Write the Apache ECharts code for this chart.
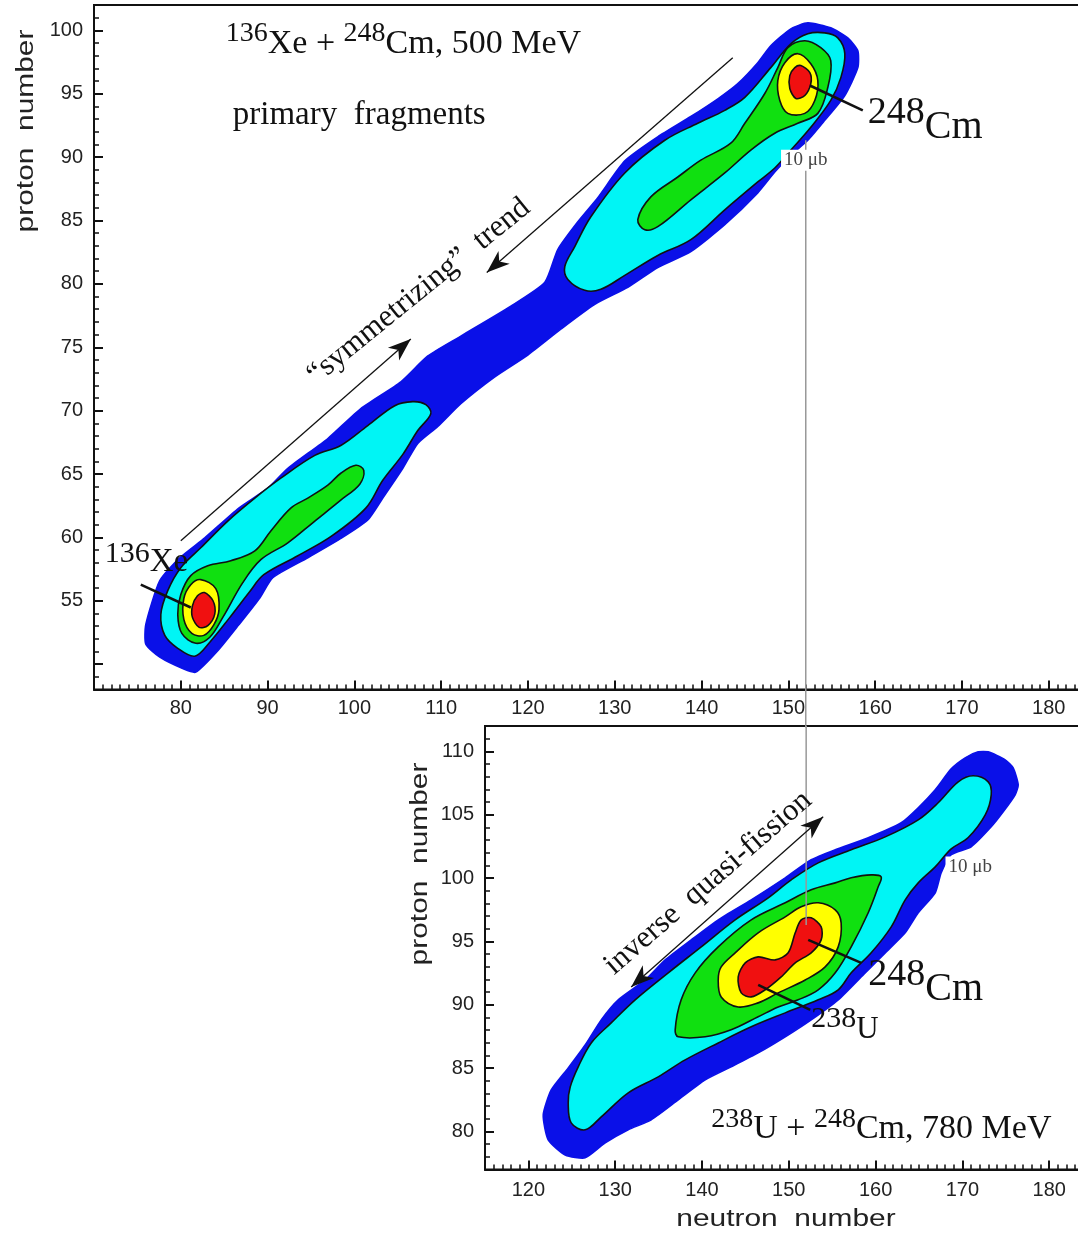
<!DOCTYPE html>
<html>
<head>
<meta charset="utf-8">
<script src="https://cdn.jsdelivr.net/npm/echarts@6/dist/echarts.min.js"></script>
<style>
html, body { margin: 0; padding: 0; background: #fff; }
#chart { width: 1078px; height: 1233px; }
</style>
</head>
<body>
<div id="chart"></div>
<script>
// contour outlines, points are [neutron number, proton number]
// upper panel: 136Xe + 248Cm
const xeBlue = [[81.73,49.37],[84.26,51.06],[86.68,53.10],[89.10,55.22],[90.60,56.82],[94.63,58.39],[98.55,59.96],[101.54,61.37],[103.27,63.10],[105.58,65.45],[107.30,67.41],[109.61,68.75],[112.26,70.55],[116.18,72.67],[119.98,74.39],[123.78,76.43],[127.70,78.39],[131.50,79.73],[134.95,81.29],[138.76,82.55],[142.67,84.67],[146.47,87.18],[148.43,88.82],[150.28,90.16],[152.24,91.33],[154.19,92.90],[156.50,94.86],[158.00,97.06],[158.00,98.39],[156.84,99.41],[154.88,100.20],[152.24,100.59],[150.28,100.12],[147.97,98.78],[146.47,97.45],[144.17,95.80],[141.87,94.60],[138.76,93.20],[134.95,91.60],[131.15,89.70],[128.04,86.80],[125.74,84.90],[123.43,82.71],[121.94,80.12],[118.02,78.24],[112.26,75.88],[108.46,74.31],[105.35,72.27],[100.74,70.16],[96.94,67.80],[92.33,65.45],[90.02,63.88],[86.68,62.31],[82.76,59.96],[79.88,58.39],[77.58,56.59],[75.97,53.14],[75.97,51.57],[77.58,50.55],[80.35,49.61]];
const xeCyanLow = [[77.70,53.92],[78.16,52.27],[79.65,51.25],[81.61,50.63],[83.34,51.73],[85.65,53.69],[87.95,55.73],[89.56,57.06],[93.48,58.55],[97.40,60.12],[101.31,62.31],[103.27,64.51],[105.58,66.55],[107.30,68.43],[108.80,69.76],[108.23,70.47],[106.73,70.71],[104.65,70.39],[101.54,68.82],[98.43,67.25],[95.44,66.47],[91.52,64.67],[88.53,63.10],[85.41,61.29],[82.30,59.18],[80.00,57.61],[78.50,55.80]];
const xeCyanHigh = [[124.59,80.35],[126.54,79.49],[128.39,79.57],[131.15,80.67],[134.95,82.24],[138.76,83.49],[142.67,85.84],[146.47,88.04],[148.43,89.14],[150.28,90.55],[152.58,92.35],[154.88,94.47],[156.04,96.27],[156.50,98.16],[155.69,99.41],[154.19,99.80],[152.24,99.73],[150.28,98.94],[147.97,97.06],[144.98,94.71],[142.67,93.69],[139.56,92.67],[135.76,91.33],[131.15,88.75],[127.24,85.29],[125.39,82.94],[124.24,81.37]];
const xeGreenLow = [[79.65,53.92],[80.12,52.43],[81.73,51.65],[83.34,52.12],[84.84,53.69],[87.14,56.43],[89.22,58.24],[92.33,59.57],[95.44,61.29],[98.43,62.94],[100.62,64.20],[101.08,65.29],[100.16,65.69],[98.43,65.06],[96.94,64.12],[94.63,63.10],[92.67,62.31],[90.37,60.51],[88.53,58.94],[85.76,58.16],[83.11,57.76],[81.15,56.98],[80.00,55.49]];
const xeGreenHigh = [[132.65,85.06],[133.46,84.27],[134.95,84.51],[138.76,86.63],[142.67,88.75],[145.67,90.55],[148.43,91.88],[151.08,92.67],[153.39,93.45],[154.54,95.49],[154.88,97.61],[153.73,98.63],[151.89,99.18],[149.93,98.63],[148.78,97.06],[147.28,95.02],[144.98,92.67],[143.36,91.10],[139.91,89.76],[137.26,88.43],[134.15,86.86]];
const xeYellowLow = [[82.30,56.67],[84.03,55.96],[84.40,54.30],[83.80,53.10],[82.65,52.27],[81.27,52.43],[80.35,53.53],[80.35,55.18],[81.15,56.27]];
const xeYellowHigh = [[151.08,98.16],[152.58,97.37],[153.39,96.04],[153.04,94.47],[151.89,93.45],[149.93,93.45],[149.01,94.47],[148.78,96.04],[149.59,97.45]];
const xeRedLow = [[82.72,55.65],[83.71,55.00],[83.91,53.95],[83.11,53.04],[82.12,52.90],[81.34,53.69],[81.34,54.60],[81.92,55.39]];
const xeRedHigh = [[151.43,97.22],[152.47,96.67],[152.58,95.80],[151.89,94.86],[150.86,94.63],[150.16,95.41],[150.16,96.43],[150.74,97.06]];

// lower panel: 238U + 248Cm
const uBlue = [[121.71,81.31],[122.28,79.34],[124.24,78.15],[126.54,77.92],[128.85,79.10],[131.50,80.13],[134.15,80.92],[137.26,82.49],[140.37,84.07],[143.36,85.10],[146.47,86.20],[149.59,87.47],[152.58,88.81],[155.69,90.39],[158.80,92.52],[161.11,94.10],[163.41,95.68],[164.91,97.26],[166.87,98.84],[167.56,100.42],[168.71,101.84],[171.01,102.47],[173.32,104.05],[174.70,105.23],[176.08,106.57],[176.43,107.36],[175.85,108.70],[174.93,109.33],[172.97,109.96],[171.82,109.96],[170.32,109.49],[168.71,108.62],[166.87,106.97],[164.91,105.55],[162.95,104.36],[159.15,103.18],[155.35,102.23],[152.58,101.44],[149.59,100.02],[145.67,98.28],[141.87,96.70],[138.76,95.12],[135.76,93.54],[133.46,91.96],[130.35,90.39],[128.39,88.81],[126.54,86.83],[124.59,85.02],[122.63,83.28]];
const uCyan = [[124.59,82.26],[124.93,80.68],[126.54,80.13],[128.39,81.15],[131.50,83.05],[134.95,84.31],[138.06,85.65],[141.87,86.99],[145.67,88.26],[149.59,89.36],[153.39,90.39],[155.69,91.18],[157.19,92.52],[159.49,94.10],[161.80,96.15],[163.41,98.28],[164.91,99.62],[166.87,100.88],[168.71,102.30],[170.67,103.20],[172.63,104.99],[173.32,106.57],[172.97,107.59],[171.24,108.07],[169.52,107.59],[167.21,105.94],[164.91,104.59],[161.11,103.25],[157.19,102.23],[153.39,101.20],[150.28,99.86],[147.63,98.44],[143.82,96.70],[139.91,94.57],[136.11,92.52],[132.30,90.39],[129.54,88.57],[127.24,86.99],[125.74,85.10],[124.82,83.52]];
const uGreen = [[136.91,88.02],[137.26,87.47],[140.37,87.47],[143.36,88.02],[146.47,89.05],[148.78,89.83],[151.08,90.39],[153.39,91.18],[155.35,92.52],[157.19,94.57],[159.15,97.26],[160.30,99.31],[160.64,100.10],[159.49,100.25],[157.19,100.02],[155.35,99.62],[152.58,99.07],[149.59,98.05],[145.67,96.70],[141.87,94.57],[139.22,92.52],[137.60,90.39]];
const uYellow = [[141.87,91.96],[142.21,90.62],[144.17,89.83],[146.47,90.15],[148.78,90.94],[151.89,91.96],[154.19,92.99],[155.69,94.57],[156.03,96.46],[155.35,97.49],[153.39,98.05],[151.43,97.73],[149.59,96.94],[146.47,95.68],[143.82,94.10],[142.21,92.99]];
const uRed = [[144.17,92.20],[144.52,90.94],[145.67,90.62],[147.28,91.18],[149.12,92.20],[150.74,93.31],[152.58,94.10],[153.73,95.12],[153.73,96.15],[152.58,96.86],[151.43,96.70],[150.74,95.68],[149.93,94.10],[148.43,93.54],[146.47,93.78],[144.98,93.31]];

// arrows and pointer lines
const xeArrowDown = [[143.59,97.84],[115.25,80.90]];
const xeArrowUp = [[80.0,59.73],[106.50,75.65]];
const xeCmPointer = [[152.47,95.65],[158.57,93.69]];
const xeXePointer = [[75.39,56.27],[81.15,54.47]];
const uArrow = [[131.84,91.41],[153.96,104.83]];
const uCmPointer = [[152.24,95.12],[158.34,93.31]];
const uUPointer = [[146.47,91.57],[152.47,89.60]];
const cmLineTop = [[152,91.33],[152,45.0]];
const cmLineBottom = [[152,112],[152,96.3]];

// tick labels
const topXTicks = [80, 90, 100, 110, 120, 130, 140, 150, 160, 170, 180];
const topYTicks = [50, 55, 60, 65, 70, 75, 80, 85, 90, 95, 100];
const topYLabels = [55, 60, 65, 70, 75, 80, 85, 90, 95, 100];
const botXTicks = [120, 130, 140, 150, 160, 170, 180];
const botYTicks = [80, 85, 90, 95, 100, 105, 110];

const SERIF = '"Liberation Serif", "Times New Roman", serif';
const SANS = '"Liberation Sans", Arial, sans-serif';
const INK = '#111';
const BLUE = '#0a10e8', CYAN = '#00f5f5', GREEN = '#10e010', YELLOW = '#ffff00', RED = '#f01010';

function axes(dim, grid, min, max, ticks, labels, margin) {
  const pos = dim === 'x' ? 'bottom' : 'left';
  const minor = {
    type: 'value', gridIndex: grid, position: pos, min: min, max: max, interval: 1,
    axisLine: { show: true, lineStyle: { color: INK, width: 2 } },
    axisTick: { show: true, inside: true, length: 5, lineStyle: { color: INK, width: 1.5 } },
    axisLabel: { show: false }, splitLine: { show: false }, silent: true
  };
  const major = {
    type: 'value', gridIndex: grid, position: pos, min: min, max: max,
    axisLine: { show: false },
    axisTick: { show: true, inside: true, length: 9, customValues: ticks, lineStyle: { color: INK, width: 2 } },
    axisLabel: { show: true, customValues: labels, fontSize: 20, fontFamily: SANS, color: '#222', margin: margin },
    splitLine: { show: false }, silent: true
  };
  return [minor, major];
}

function onGrid(g) {
  return { type: 'custom', xAxisIndex: g * 2 + 1, yAxisIndex: g * 2 + 1, silent: true, animation: false, encode: { x: 0, y: 1 } };
}

function contour(g, pts, fill, stroke, smooth) {
  return Object.assign(onGrid(g), {
    data: pts,
    renderItem: function (params, api) {
      if (params.context.done) return;
      params.context.done = true;
      return {
        type: 'polygon',
        shape: { points: pts.map(function (p) { return api.coord(p); }), smooth: smooth },
        style: { fill: fill, stroke: stroke, lineWidth: 1.6 }
      };
    }
  });
}

function arrowHead(tip, from) {
  const dx = tip[0] - from[0], dy = tip[1] - from[1];
  const len = Math.sqrt(dx * dx + dy * dy);
  const ux = dx / len, uy = dy / len, nx = -uy, ny = ux;
  const L = 23, W = 8.5;
  return {
    type: 'polygon',
    shape: { points: [tip, [tip[0] - ux * L + nx * W, tip[1] - uy * L + ny * W], [tip[0] - ux * L * 0.72, tip[1] - uy * L * 0.72], [tip[0] - ux * L - nx * W, tip[1] - uy * L - ny * W]] },
    style: { fill: INK }
  };
}

function line(g, pts, color, width, heads) {
  return Object.assign(onGrid(g), {
    data: pts,
    renderItem: function (params, api) {
      if (params.context.done) return;
      params.context.done = true;
      const p = pts.map(function (d) { return api.coord(d); });
      const kids = [{ type: 'polyline', shape: { points: p }, style: { stroke: color, lineWidth: width, fill: null } }];
      if (heads.indexOf('end') >= 0) kids.push(arrowHead(p[p.length - 1], p[p.length - 2]));
      if (heads.indexOf('start') >= 0) kids.push(arrowHead(p[0], p[1]));
      return { type: 'group', children: kids };
    }
  });
}

function note(g, pos, style, rotateDeg) {
  return Object.assign(onGrid(g), {
    data: [pos], z: 5,
    renderItem: function (params, api) {
      const c = api.coord(pos);
      return {
        type: 'text', x: c[0], y: c[1], rotation: (rotateDeg || 0) * Math.PI / 180,
        style: Object.assign({ fill: INK, align: 'left', verticalAlign: 'middle' }, style)
      };
    }
  });
}

function supText(text, main, sup, raise) {
  return {
    text: text,
    rich: {
      s: { fontSize: sup, fontFamily: SERIF, fill: INK, padding: [0, 0, raise * 2, 0] },
      n: { fontSize: main, fontFamily: SERIF, fill: INK }
    }
  };
}

const plain = function (size) { return { font: size + 'px ' + SERIF }; };
const micro = { text: '10 \u03bcb', font: '19px ' + SERIF, fill: '#444', align: 'center', backgroundColor: '#fff', padding: [1, 3] };

const xAxes = [].concat(
  axes('x', 0, 70, 190, topXTicks, topXTicks, 9),
  axes('x', 1, 115, 190, botXTicks, botXTicks, 11)
);
const yAxes = [].concat(
  axes('y', 0, 48, 102, topYTicks, topYLabels, 11),
  axes('y', 1, 77, 112, botYTicks, botYTicks, 11)
);

const option = {
  animation: false,
  backgroundColor: '#fff',
  grid: [
    { left: 94, top: 5, width: 1041.6, height: 684.5, show: true, borderColor: INK, borderWidth: 2, outerBoundsMode: 'none', containLabel: false },
    { left: 485, top: 726, width: 651, height: 443.5, show: true, borderColor: INK, borderWidth: 2, outerBoundsMode: 'none', containLabel: false }
  ],
  xAxis: xAxes,
  yAxis: yAxes,
  graphic: [
    { type: 'text', x: 27, y: 131, rotation: Math.PI / 2, scaleX: 1.3, style: { text: 'proton  number', font: '23px ' + SANS, fill: '#222', align: 'center', verticalAlign: 'middle' } },
    { type: 'text', x: 421, y: 864, rotation: Math.PI / 2, scaleX: 1.3, style: { text: 'proton  number', font: '23px ' + SANS, fill: '#222', align: 'center', verticalAlign: 'middle' } },
    { type: 'text', x: 786, y: 1220, scaleX: 1.3, style: { text: 'neutron  number', font: '23px ' + SANS, fill: '#222', align: 'center', verticalAlign: 'middle' } }
  ],
  series: [
    contour(0, xeBlue, BLUE, BLUE, 0.2),
    contour(0, xeCyanLow, CYAN, INK, 0.35),
    contour(0, xeCyanHigh, CYAN, INK, 0.35),
    contour(0, xeGreenLow, GREEN, INK, 0.35),
    contour(0, xeGreenHigh, GREEN, INK, 0.35),
    contour(0, xeYellowLow, YELLOW, INK, 0.35),
    contour(0, xeYellowHigh, YELLOW, INK, 0.35),
    contour(0, xeRedLow, RED, INK, 0.3),
    contour(0, xeRedHigh, RED, INK, 0.3),
    contour(1, uBlue, BLUE, BLUE, 0.2),
    contour(1, uCyan, CYAN, INK, 0.35),
    contour(1, uGreen, GREEN, INK, 0.35),
    contour(1, uYellow, YELLOW, INK, 0.35),
    contour(1, uRed, RED, INK, 0.3),

    note(0, [152.0, 89.76], micro),
    note(1, [170.9, 100.88], micro),
    line(0, cmLineTop, '#999', 1.5, []),
    line(1, cmLineBottom, '#999', 1.5, []),

    line(0, xeArrowDown, INK, 1.3, ['end']),
    line(0, xeArrowUp, INK, 1.3, ['end']),
    line(0, xeCmPointer, INK, 2.6, []),
    line(0, xeXePointer, INK, 2.6, []),
    line(1, uArrow, INK, 1.3, ['start', 'end']),
    line(1, uCmPointer, INK, 2.6, []),
    line(1, uUPointer, INK, 2.6, []),

    note(0, [85.18, 98.94], supText('{s|136}{n|Xe + }{s|248}{n|Cm, 500 MeV}', 34, 28, 10)),
    note(0, [85.99, 93.29], Object.assign({ text: 'primary  fragments' }, plain(33))),
    note(0, [107.42, 79.41], Object.assign({ text: '\u201csymmetrizing\u201d  trend', align: 'center' }, plain(31)), 39),
    note(0, [71.24, 58.0], supText('{s|136}{n|Xe}', 33, 30, 9)),
    note(0, [159.15, 92.31], supText('{s|248}{n|Cm}', 40, 38, 15)),
    note(1, [140.71, 99.62], Object.assign({ text: 'inverse  quasi-fission', align: 'center' }, plain(31)), 41),
    note(1, [159.15, 91.18], supText('{s|248}{n|Cm}', 40, 38, 15)),
    note(1, [152.58, 88.02], supText('{s|238}{n|U}', 31, 30, 11)),
    note(1, [141.06, 80.17], supText('{s|238}{n|U + }{s|248}{n|Cm, 780 MeV}', 34, 28, 10))
  ]
};

const chart = echarts.init(document.getElementById('chart'));
chart.setOption(option);
</script>
</body>
</html>
